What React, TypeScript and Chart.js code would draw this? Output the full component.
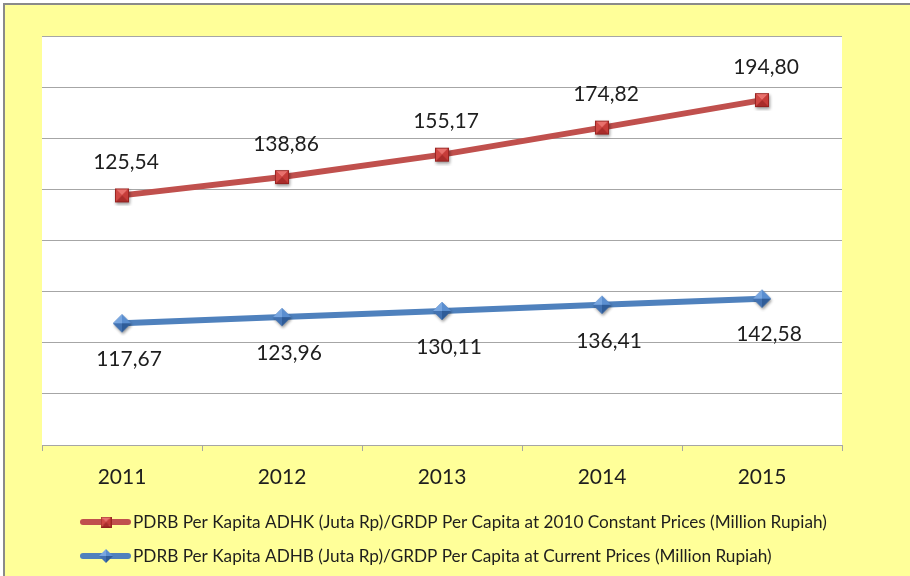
import { useEffect, useRef } from "react";
import { Chart, registerables } from "chart.js";

Chart.register(...registerables);

const years = ["2011", "2012", "2013", "2014", "2015"];
const adhkValues = [125.54, 138.86, 155.17, 174.82, 194.8];
const adhbValues = [117.67, 123.96, 130.11, 136.41, 142.58];
const adhkName =
  "PDRB Per Kapita ADHK (Juta Rp)/GRDP Per Capita at 2010 Constant Prices (Million Rupiah)";
const adhbName =
  "PDRB Per Kapita ADHB (Juta Rp)/GRDP Per Capita at Current Prices (Million Rupiah)";

// hidden axis ranges (each series has its own value axis in the original)
const adhkAxisRange = [-55.9, 241.4];
const adhbAxisRange = [-5.6, 408.6];
const gridDivisions = 8;

const RED = "#C0504D";
const BLUE = "#4F81BD";
const YELLOW = "#FFFF99";
const GRID = "#A6A6A6";
const TEXT = "#1e1e1e";
const FONT = "Lato, 'Open Sans', sans-serif";

const fmt = (v: number) => v.toFixed(2).replace(".", ",");

function makeSquare(side: number, shadow: boolean) {
  const pad = shadow ? 4 : 0;
  const c = document.createElement("canvas");
  c.width = side + pad * 2;
  c.height = side + pad * 2;
  const ctx = c.getContext("2d")!;
  const x0 = pad, y0 = pad, x1 = pad + side, y1 = pad + side;
  const cx = (x0 + x1) / 2, cy = (y0 + y1) / 2;
  if (shadow) {
    ctx.save();
    ctx.shadowColor = "rgba(0,0,0,0.4)";
    ctx.shadowBlur = 3;
    ctx.shadowOffsetY = 2;
    ctx.shadowOffsetX = 1;
    ctx.fillStyle = "#B83532";
    ctx.fillRect(x0, y0, side, side);
    ctx.restore();
  }
  const tri = (ax: number, ay: number, bx: number, by: number, col: string) => {
    ctx.beginPath();
    ctx.moveTo(ax, ay);
    ctx.lineTo(bx, by);
    ctx.lineTo(cx, cy);
    ctx.closePath();
    ctx.fillStyle = col;
    ctx.fill();
  };
  tri(x0, y0, x1, y0, "#E8706C");
  tri(x1, y0, x1, y1, "#C63C39");
  tri(x1, y1, x0, y1, "#A82C2A");
  tri(x0, y1, x0, y0, "#D04844");
  ctx.strokeStyle = "rgba(140,30,28,0.8)";
  ctx.lineWidth = 1;
  ctx.strokeRect(x0 + 0.5, y0 + 0.5, side - 1, side - 1);
  return c;
}

function makeDiamond(half: number, shadow: boolean) {
  const pad = shadow ? 4 : 0;
  const c = document.createElement("canvas");
  c.width = half * 2 + pad * 2;
  c.height = half * 2 + pad * 2;
  const ctx = c.getContext("2d")!;
  const cx = pad + half, cy = pad + half;
  const T = [cx, cy - half], R = [cx + half, cy], B = [cx, cy + half], L = [cx - half, cy];
  if (shadow) {
    ctx.save();
    ctx.shadowColor = "rgba(0,0,0,0.4)";
    ctx.shadowBlur = 3;
    ctx.shadowOffsetY = 2;
    ctx.shadowOffsetX = 1;
    ctx.beginPath();
    ctx.moveTo(T[0], T[1]);
    ctx.lineTo(R[0], R[1]);
    ctx.lineTo(B[0], B[1]);
    ctx.lineTo(L[0], L[1]);
    ctx.closePath();
    ctx.fillStyle = "#4A7BBA";
    ctx.fill();
    ctx.restore();
  }
  const tri = (a: number[], b: number[], col: string) => {
    ctx.beginPath();
    ctx.moveTo(a[0], a[1]);
    ctx.lineTo(b[0], b[1]);
    ctx.lineTo(cx, cy);
    ctx.closePath();
    ctx.fillStyle = col;
    ctx.fill();
  };
  tri(L, T, "#78A6E0");
  tri(T, R, "#5A8ED0");
  tri(R, B, "#2F5C98");
  tri(B, L, "#4272B2");
  return c;
}

export default function App() {
  const ref = useRef<HTMLCanvasElement | null>(null);

  useEffect(() => {
    if (!ref.current) return;
    const redMarker = makeSquare(14, true);
    const blueMarker = makeDiamond(9, true);
    const redLegendMarker = makeSquare(11, false);
    const blueLegendMarker = makeDiamond(7, false);

    const background = {
      id: "background",
      beforeDraw(chart: any) {
        const { ctx, width, height, chartArea } = chart;
        ctx.save();
        ctx.fillStyle = "#ffffff";
        ctx.fillRect(0, 0, width, height);
        ctx.fillStyle = YELLOW;
        ctx.fillRect(4, 4, width, height);
        ctx.strokeStyle = "#8a8a8a";
        ctx.lineWidth = 2;
        ctx.beginPath();
        ctx.moveTo(4, height + 5);
        ctx.lineTo(4, 4);
        ctx.lineTo(width + 5, 4);
        ctx.stroke();
        ctx.fillStyle = "#ffffff";
        ctx.fillRect(
          chartArea.left,
          chartArea.top,
          chartArea.right - chartArea.left,
          chartArea.bottom - chartArea.top
        );
        ctx.restore();
      },
    };

    const valueLabels = {
      id: "valueLabels",
      afterDatasetsDraw(chart: any) {
        const { ctx } = chart;
        ctx.save();
        ctx.font = `21px ${FONT}`;
        ctx.fillStyle = TEXT;
        ctx.textAlign = "center";
        ctx.textBaseline = "middle";
        chart.data.datasets.forEach((ds: any, di: number) => {
          const meta = chart.getDatasetMeta(di);
          const above = di === 0;
          meta.data.forEach((pt: any, i: number) => {
            const dx = above ? 4 : 7;
            const dy = above ? -33 : 36;
            ctx.fillText(fmt(ds.data[i]), pt.x + dx, pt.y + dy);
          });
        });
        ctx.restore();
      },
    };

    const customLegend = {
      id: "customLegend",
      afterDraw(chart: any) {
        const { ctx } = chart;
        const items = [
          { name: adhkName, color: RED, marker: redLegendMarker, y: 522 },
          { name: adhbName, color: BLUE, marker: blueLegendMarker, y: 556 },
        ];
        ctx.save();
        items.forEach((it) => {
          ctx.strokeStyle = it.color;
          ctx.lineWidth = 6;
          ctx.lineCap = "round";
          ctx.beginPath();
          ctx.moveTo(83, it.y);
          ctx.lineTo(128, it.y);
          ctx.stroke();
          ctx.drawImage(
            it.marker,
            106 - it.marker.width / 2,
            it.y - it.marker.height / 2
          );
          ctx.font = `17.2px ${FONT}`;
          ctx.fillStyle = TEXT;
          ctx.textAlign = "left";
          ctx.textBaseline = "middle";
          ctx.fillText(it.name, 133, it.y);
        });
        ctx.restore();
      },
    };

    const chart = new Chart(ref.current, {
      type: "line",
      data: {
        labels: years,
        datasets: [
          {
            label: adhkName,
            data: adhkValues,
            yAxisID: "yK",
            borderColor: RED,
            backgroundColor: RED,
            borderWidth: 6,
            pointStyle: redMarker as any,
            pointRadius: 8,
            tension: 0,
          },
          {
            label: adhbName,
            data: adhbValues,
            yAxisID: "yB",
            borderColor: BLUE,
            backgroundColor: BLUE,
            borderWidth: 6,
            pointStyle: blueMarker as any,
            pointRadius: 8,
            tension: 0,
          },
        ],
      },
      options: {
        responsive: false,
        animation: false,
        devicePixelRatio: 1,
        layout: { padding: { left: 42, right: 68, top: 36, bottom: 81 } },
        plugins: {
          legend: { display: false },
          tooltip: { enabled: false },
        },
        scales: {
          x: {
            type: "category",
            offset: true,
            grid: {
              offset: true,
              drawOnChartArea: false,
              drawTicks: true,
              tickLength: 6,
              color: GRID,
            },
            border: { color: GRID },
            ticks: {
              font: { family: FONT, size: 21 },
              color: TEXT,
              padding: 14,
              maxRotation: 0,
            },
            afterFit: (s: any) => {
              s.height = 50;
            },
          },
          g: {
            type: "linear",
            position: "left",
            min: 0,
            max: gridDivisions,
            ticks: { display: false, stepSize: 1 },
            grid: { color: GRID, drawTicks: false },
            border: { display: false },
            afterFit: (s: any) => {
              s.width = 0;
            },
          },
          yK: {
            type: "linear",
            display: false,
            min: adhkAxisRange[0],
            max: adhkAxisRange[1],
          },
          yB: {
            type: "linear",
            display: false,
            min: adhbAxisRange[0],
            max: adhbAxisRange[1],
          },
        },
      },
      plugins: [background, valueLabels, customLegend],
    });
    return () => chart.destroy();
  }, []);

  return (
    <div style={{ position: "absolute", left: 0, top: 0, width: 910, height: 576 }}>
      <canvas ref={ref} width={910} height={576} style={{ display: "block" }} />
    </div>
  );
}
